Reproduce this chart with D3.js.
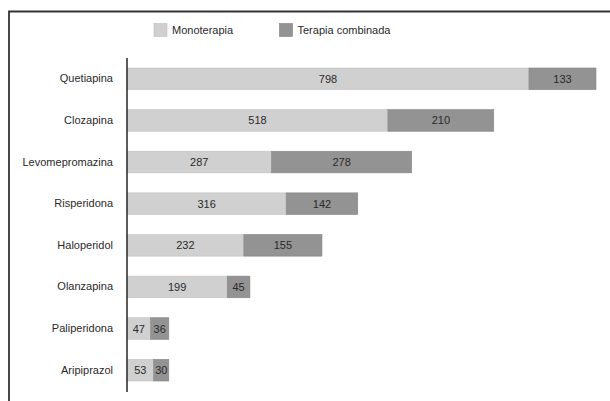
<!DOCTYPE html>
<html>
<head>
<meta charset="utf-8">
<script src="https://cdn.jsdelivr.net/npm/d3@7"></script>
<style>
  body { margin: 0; background: #fff; }
  text { font-family: "Liberation Sans", Arial, sans-serif; }
</style>
</head>
<body>
<div id="chart"></div>
<script>
// data
const drugs = ['Quetiapina', 'Clozapina', 'Levomepromazina', 'Risperidona',
  'Haloperidol', 'Olanzapina', 'Paliperidona', 'Aripiprazol'];
const mono = [798, 518, 287, 316, 232, 199, 47, 53];
const combo = [133, 210, 278, 142, 155, 45, 36, 30];
const seriesNames = ['Monoterapia', 'Terapia combinada'];
const colors = ['#d0d0d0', '#939393'];

const width = 610;
const height = 401;

const svg = d3.select('#chart')
  .append('svg')
  .attr('width', width)
  .attr('height', height);

// frame (top and left edges only visible)
svg.append('path')
  .attr('d', `M9,${height} L9,11.5 L${width},11.5`)
  .attr('fill', 'none')
  .attr('stroke', '#333')
  .attr('stroke-width', 1.8);

const rows = drugs.map((d, i) => ({ name: d, mono: mono[i], combo: combo[i] }));

const xScale = d3.scaleLinear()
  .domain([0, d3.max(rows, r => r.mono + r.combo)])
  .range([127, 596]);

const yScale = d3.scaleBand()
  .domain(drugs)
  .range([58, 391])
  .paddingInner(0.48)
  .paddingOuter(0.24);

// stacked segments
const stack = d3.stack().keys(['mono', 'combo'])(rows);

stack.forEach((layer, li) => {
  const g = svg.append('g');
  g.selectAll('rect').data(layer)
    .enter().append('rect')
    .attr('x', d => xScale(d[0]))
    .attr('y', d => yScale(d.data.name))
    .attr('width', d => xScale(d[1]) - xScale(d[0]))
    .attr('height', yScale.bandwidth())
    .attr('fill', colors[li])
    .attr('stroke', li === 0 ? '#c2c2c2' : '#868686')
    .attr('stroke-width', 0.6);

  g.selectAll('text').data(layer)
    .enter().append('text')
    .attr('x', d => (xScale(d[0]) + xScale(d[1])) / 2)
    .attr('y', d => yScale(d.data.name) + yScale.bandwidth() / 2)
    .attr('dy', '0.36em')
    .attr('text-anchor', 'middle')
    .attr('font-size', 11)
    .attr('fill', '#2a2a2a')
    .text(d => d[1] - d[0]);
});

// y axis: line + category labels
const yAxis = d3.axisLeft(yScale).tickSize(0).tickPadding(14);
const gY = svg.append('g')
  .attr('transform', 'translate(127,0)')
  .call(yAxis);
gY.select('.domain').remove();
gY.selectAll('text')
  .attr('font-size', 11)
  .attr('font-family', '"Liberation Sans", Arial, sans-serif')
  .attr('fill', '#2a2a2a');

svg.append('line')
  .attr('x1', 127).attr('x2', 127)
  .attr('y1', 58).attr('y2', 392)
  .attr('stroke', '#333')
  .attr('stroke-width', 1.6);

// legend
const legendX = [154, 279.5];
const legend = svg.append('g');
seriesNames.forEach((name, i) => {
  legend.append('rect')
    .attr('x', legendX[i]).attr('y', 23.5)
    .attr('width', 13).attr('height', 13)
    .attr('fill', colors[i])
    .attr('stroke', i === 0 ? '#bdbdbd' : '#808080')
    .attr('stroke-width', 0.6);
  legend.append('text')
    .attr('x', legendX[i] + 18)
    .attr('y', 30)
    .attr('dy', '0.36em')
    .attr('font-size', 11)
    .attr('fill', '#2a2a2a')
    .text(name);
});
</script>
</body>
</html>
